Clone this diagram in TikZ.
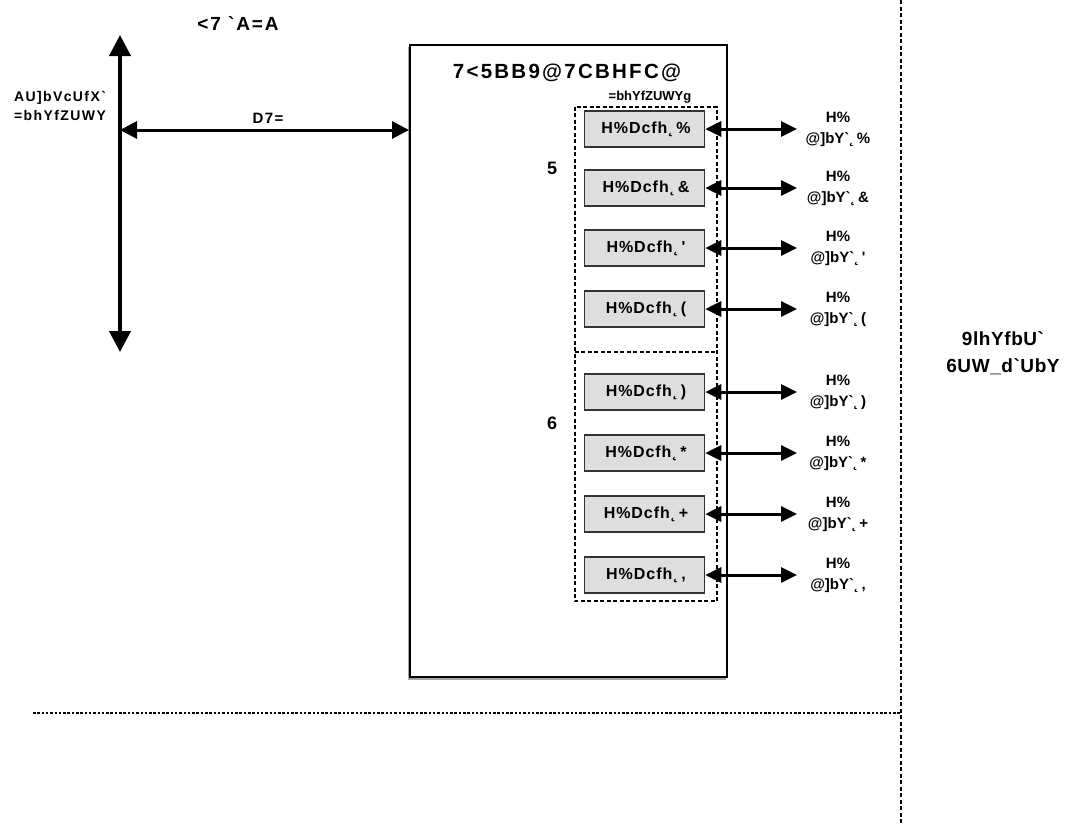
\documentclass[tikz,border=0pt]{standalone}
\usepackage{fontspec}
\setmainfont{Liberation Sans}[Ligatures=TeXOff]
\usetikzlibrary{arrows.meta}
\newcommand\gmk{\symbol{96}}
\newcommand\ogk{\symbol{"02DB}}
\begin{document}
\begin{tikzpicture}[x=1pt,y=-1pt,
  every node/.style={inner sep=0pt},
  lab/.style={font=\bfseries\fontsize{15}{21}\selectfont, align=center},
  sml/.style={font=\bfseries\fontsize{13}{19}\selectfont, align=center},
  portbox/.style={draw=black!80, line width=1.6pt, fill=black!13, minimum width=120pt, minimum height=36pt, font=\bfseries\fontsize{16}{18}\selectfont\addfontfeatures{LetterSpace=6}},
  grp/.style={draw, line width=1.6pt, dash pattern=on 4pt off 2.5pt},
  bigarr/.style={line width=4pt, {Triangle[length=21pt,width=21pt]}-{Triangle[length=21pt,width=21pt]}},
  hlink/.style={line width=3pt, {Triangle[length=17pt,width=17pt]}-{Triangle[length=17pt,width=17pt]}},
  plink/.style={line width=3pt, {Triangle[length=16pt,width=15pt]}-{Triangle[length=16pt,width=15pt]}},
  sepline/.style={line width=2pt, dash pattern=on 2.5pt off 1.8pt},
]
\useasboundingbox (0,0) rectangle (1068,823);
\fill[white] (0,0) rectangle (1068,823);

% separators
\coordinate (vs1) at (901,0);
\coordinate (vs2) at (901,823);
\draw[sepline, dash pattern=on 4pt off 2.5pt] (vs1) -- (vs2);
\coordinate (hs1) at (33,713);
\draw[sepline] (hs1) -- (hs1 -| vs1);

% main box
\draw[gray!70, line width=2pt] (409,47) -- (409,679) -- (726,679);
\node[draw, line width=2pt, minimum width=317pt, minimum height=632pt] (ctrl) at (568.5,361) {};
\node[font=\bfseries\fontsize{20.5}{22}\selectfont\addfontfeatures{LetterSpace=11}] (ctrlt) at (567,73) {7<5BB9@7CBHFC@};
\node[sml] (ifs) at (650,97) {=bhYfZUWYg};

% groups
\node[minimum width=142pt, minimum height=245pt] (grpA) at (646,229.5) {};
\node[minimum width=142pt, minimum height=249pt] (grpB) at (646,476.5) {};
\draw[grp] (grpA.north west) rectangle (grpB.south east);
\draw[grp] (grpA.south west) -- (grpA.south east);
\node[font=\bfseries\fontsize{18}{20}\selectfont] (la) at (552,168) {5};
\node[font=\bfseries\fontsize{18}{20}\selectfont] (lb) at (552,423) {6};

% ports
\foreach \i/\y/\d in {1/129/\%,2/188/\&,3/248/',4/309/(,5/392/),6/453/*,7/514/+,8/575/{,}}{
  \node[portbox] (p\i) at (644.5,\y) {\hspace{3pt}H\%Dcfh\ogk\,\d};
  \coordinate (t\i) at (797,\y);
  \draw[plink] (p\i.east) -- (t\i);
  \node[lab] (l\i) at (838,\y) {H\%\\@]bY\gmk\ogk\,\d};
}

% left side
\node[font=\bfseries\fontsize{19}{22}\selectfont\addfontfeatures{LetterSpace=10}] (hc) at (238,24) {<7 \gmk A=A};
\coordinate (vtop) at (120,35);
\coordinate (vbot) at (120,352);
\draw[bigarr] (vtop) -- (vbot);
\coordinate (hl) at (120,130);
\draw[hlink] (hl) -- (hl -| ctrl.west);
\node[align=center, font=\bfseries\fontsize{14}{19}\selectfont\addfontfeatures{LetterSpace=10}] (mb) at (60,106) {AU]bVcUfX\gmk\\=bhYfZUWY};
\node[font=\bfseries\fontsize{15}{19}\selectfont\addfontfeatures{LetterSpace=10}] (pci) at (268,118) {D7=};

% right
\node[lab, font=\bfseries\fontsize{19}{27}\selectfont\addfontfeatures{LetterSpace=3}] (ext) at (1003,353) {9lhYfbU\gmk\\6UW\_d\gmk UbY};
\end{tikzpicture}
\end{document}
